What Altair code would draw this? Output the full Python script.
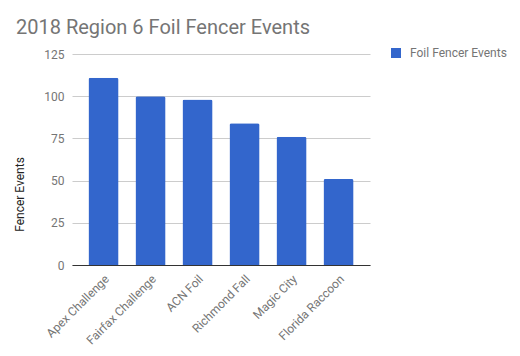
import altair as alt
import pandas as pd

events = ["Apex Challenge", "Fairfax Challenge", "ACN Foil", "Richmond Fall", "Magic City", "Florida Raccoon"]
counts = [111, 100, 98, 84, 76, 51]
series = "Foil Fencer Events"

df = pd.DataFrame({"event": events, "count": counts, "series": [series] * len(events)})

FONT = "Roboto"
GRAY = "#757575"

chart = alt.Chart(df).mark_bar(cornerRadiusTopLeft=2, cornerRadiusTopRight=2).encode(
    x=alt.X("event:N", sort=events, title=None,
            scale=alt.Scale(paddingInner=0.36, paddingOuter=0.35),
            axis=alt.Axis(labelAngle=315, labelFont=FONT, labelFontSize=12, labelColor=GRAY,
                          ticks=False, domainColor="#333333", domainWidth=1, labelPadding=8)),
    y=alt.Y("count:Q", title="Fencer Events",
            scale=alt.Scale(domain=[0, 125]),
            axis=alt.Axis(values=[0, 25, 50, 75, 100, 125], domain=False, ticks=False,
                          labelFont=FONT, labelFontSize=12, labelColor=GRAY, labelPadding=8,
                          gridColor="#cccccc", titleFont=FONT, titleFontSize=12,
                          titleFontWeight="normal", titleColor="#222222",
                          titleX=-46, titleY=140, titleAlign="center", titleBaseline="bottom")),
    color=alt.Color("series:N", scale=alt.Scale(range=["#3366cc"]),
                    legend=alt.Legend(title=None, orient="none", legendX=318, legendY=-7,
                                      symbolType="square", symbolSize=100, symbolStrokeWidth=0,
                                      labelFont=FONT, labelFontSize=12, labelColor=GRAY,
                                      labelOffset=8))
).properties(
    width=298, height=211,
    title=alt.TitleParams("2018 Region 6 Foil Fencer Events", anchor="start", frame="group",
                          font=FONT, fontSize=20, fontWeight="normal", color=GRAY,
                          dx=-56, offset=9),
    autosize=alt.AutoSizeParams(type="none"),
    padding={"left": 64, "top": 46, "right": 142, "bottom": 83}
).configure_view(stroke=None)

chart.save("out.html", embed_options={"renderer": "svg", "actions": False})
